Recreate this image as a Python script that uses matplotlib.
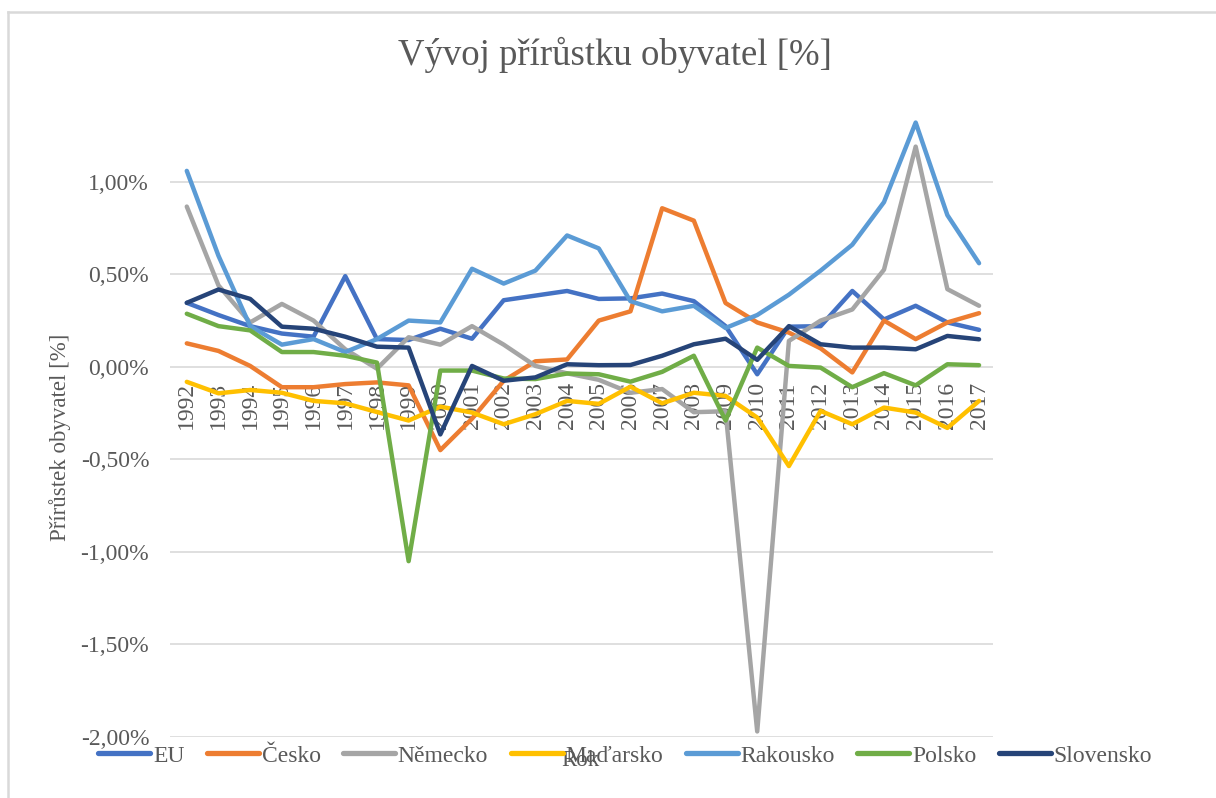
import matplotlib
matplotlib.use("Agg")
import matplotlib.pyplot as plt
from matplotlib.lines import Line2D

years = list(range(1992, 2018))

eu = [0.346, 0.28, 0.22, 0.18, 0.163, 0.49, 0.15, 0.145, 0.206, 0.152, 0.36, 0.385, 0.41,
      0.367, 0.37, 0.396, 0.355, 0.22, -0.04, 0.217, 0.22, 0.41, 0.256, 0.33, 0.24, 0.20]
cesko = [0.127, 0.086, 0.005, -0.11, -0.11, -0.093, -0.084, -0.10, -0.45, -0.28, -0.075, 0.03, 0.04,
         0.25, 0.30, 0.857, 0.79, 0.345, 0.24, 0.185, 0.10, -0.03, 0.25, 0.15, 0.24, 0.29]
nemecko = [0.866, 0.44, 0.24, 0.34, 0.25, 0.095, -0.01, 0.16, 0.12, 0.22, 0.12, 0.005, -0.035,
           -0.07, -0.14, -0.12, -0.245, -0.24, -1.97, 0.14, 0.25, 0.31, 0.525, 1.19, 0.42, 0.33]
madarsko = [-0.081, -0.143, -0.125, -0.14, -0.184, -0.197, -0.244, -0.29, -0.215, -0.247, -0.31, -0.256, -0.184,
            -0.20, -0.107, -0.197, -0.14, -0.157, -0.274, -0.536, -0.238, -0.31, -0.22, -0.247, -0.33, -0.184]
rakousko = [1.059, 0.60, 0.22, 0.12, 0.15, 0.08, 0.15, 0.25, 0.24, 0.53, 0.45, 0.52, 0.71,
            0.64, 0.355, 0.30, 0.33, 0.21, 0.28, 0.39, 0.52, 0.66, 0.89, 1.32, 0.82, 0.56]
polsko = [0.287, 0.22, 0.197, 0.08, 0.08, 0.06, 0.023, -1.05, -0.02, -0.02, -0.063, -0.066, -0.036,
          -0.04, -0.08, -0.027, 0.06, -0.29, 0.104, 0.005, -0.004, -0.11, -0.034, -0.10, 0.014, 0.009]
slovensko = [0.346, 0.418, 0.367, 0.217, 0.206, 0.163, 0.109, 0.104, -0.365, 0.005, -0.075, -0.057, 0.014,
             0.009, 0.01, 0.06, 0.122, 0.152, 0.038, 0.22, 0.122, 0.104, 0.104, 0.095, 0.167, 0.149]

series_names = ["EU", "Česko", "Německo", "Maďarsko", "Rakousko", "Polsko", "Slovensko"]
series_values = [eu, cesko, nemecko, madarsko, rakousko, polsko, slovensko]
colors = ["#4472C4", "#ED7D31", "#A5A5A5", "#FFC000", "#5B9BD5", "#70AD47", "#264478"]

yticks = [-2.0, -1.5, -1.0, -0.5, 0.0, 0.5, 1.0]
ytick_labels = ["-2,00%", "-1,50%", "-1,00%", "-0,50%", "0,00%", "0,50%", "1,00%"]

title = "Vývoj přírůstku obyvatel [%]"
ylabel = "Přírůstek obyvatel [%]"
xlabel = "Rok"

plt.rcParams['font.family'] = ['Liberation Serif', 'DejaVu Serif']
gray = "#595959"

W, H = 1216, 798
fig = plt.figure(figsize=(W / 100, H / 100), dpi=100)
ax = fig.add_axes([170 / W, 1 - 737 / H, (993 - 170) / W, (737 - 98.5) / H])

handles = []
for name, vals, c in zip(series_names, series_values, colors):
    h, = ax.plot(years, vals, color=c, lw=3.2, solid_joinstyle='round', solid_capstyle='round', label=name, zorder=3)
    handles.append(h)

for s in ['top', 'right', 'left']:
    ax.spines[s].set_visible(False)
ax.spines['bottom'].set_position(('data', 0))
ax.spines['bottom'].set_visible(False)

ax.set_xlim(1991.47, 2017.44)
ax.set_ylim(-2.0, 1.45)
ax.set_yticks(yticks)
ax.set_yticklabels(ytick_labels)
ax.set_xticks(years)
ax.set_xticklabels([str(y) for y in years])
ax.tick_params(axis='both', length=0, colors=gray, labelsize=17)
ax.tick_params(axis='y', pad=15)
ax.tick_params(axis='x', pad=11, labelrotation=90)
ax.yaxis.grid(True, color="#d9d9d9", lw=1.2, zorder=0)
ax.set_axisbelow(True)

fig.text(615 / W, 1 - 55 / H, title, ha='center', va='center', fontsize=26.5, color=gray)
fig.text(60 / W, 1 - 437 / H, ylabel, ha='center', va='center', rotation=90, fontsize=16.5, color=gray)

leg = fig.legend(handles, series_names, loc='center', bbox_to_anchor=(625 / W, 1 - 756 / H), ncol=7,
                 frameon=False, fontsize=17, handlelength=2.2, handletextpad=0.12, columnspacing=0.95,
                 labelcolor=gray)
for lh in leg.legend_handles:
    lh.set_linewidth(3.8)

fig.text(580 / W, 1 - 760 / H, xlabel, ha='center', va='center', fontsize=16.5, color=gray)

# outer chart border (partially visible)
fig.add_artist(Line2D([8 / W, 1.0], [1 - 12 / H, 1 - 12 / H], color="#d9d9d9", lw=1.8, transform=fig.transFigure))
fig.add_artist(Line2D([8 / W, 8 / W], [1 - 12 / H, 0.0], color="#d9d9d9", lw=1.8, transform=fig.transFigure))

fig.savefig("out.png", dpi=100, facecolor='white')
